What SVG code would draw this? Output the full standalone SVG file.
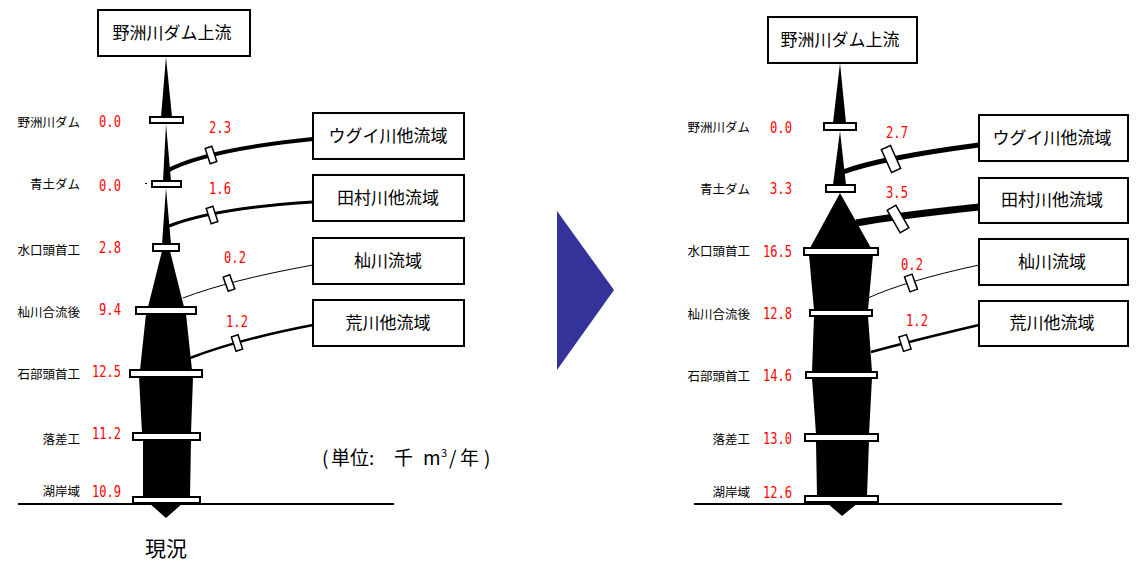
<svg xmlns="http://www.w3.org/2000/svg" width="1141" height="563" viewBox="0 0 1141 563">
<style>
.box{fill:#fff;stroke:#000;stroke-width:2}
.dam{fill:#fff;stroke:#000;stroke-width:2}
.gate{fill:#fff;stroke:#000;stroke-width:1.5}
.flow{fill:#000}
.con{fill:none;stroke:#000}
.bt{font-family:"Noto Sans CJK JP","Noto Sans",sans-serif;font-size:17px;text-anchor:middle;fill:#000}
.lbl{font-family:"Noto Sans CJK JP","Noto Sans",sans-serif;font-size:12.5px;text-anchor:end;fill:#000}
.val{font-family:"DejaVu Sans Mono","Liberation Mono",monospace;font-size:15px;fill:#ff0000;text-anchor:end}
.bv{font-family:"DejaVu Sans Mono","Liberation Mono",monospace;font-size:15px;fill:#ff0000;text-anchor:middle}
.big{font-family:"Noto Sans CJK JP","Noto Sans",sans-serif;font-size:21px;text-anchor:middle;fill:#000}
.unit{font-family:"Noto Sans CJK JP","Noto Sans",sans-serif;font-size:19px;fill:#000}
</style>
<rect width="1141" height="563" fill="#fff"/>

<!-- ===== LEFT (現況) ===== -->
<g id="left-river">
<polygon class="flow" points="166,57 172,117 161,117"/>
<polygon class="flow" points="166,124 171,181 163,181"/>
<polygon class="flow" points="166,188 171,244 162,244"/>
<polygon class="flow" points="162,251 170,251 184,307 148,307"/>
<polygon class="flow" points="146,314 186,314 192,370 140,370"/>
<polygon class="flow" points="139,377 193,377 191,433 142,433"/>
<polygon class="flow" points="143,440 191,440 190,497 143,497"/>
<polygon class="flow" points="149,503 183,503 166,518"/>
<line x1="18" y1="504" x2="394" y2="504" stroke="#000" stroke-width="2"/>
<rect x="145" y="183" width="2" height="1" fill="#000"/>
</g>

<g id="left-connectors">
<path class="con" stroke-width="4" d="M167,171 Q205,150 313,139"/>
<path class="con" stroke-width="3" d="M169,226 Q215,208 313,202"/>
<path class="con" stroke-width="1" d="M183,298 Q230,280 313,265"/>
<path class="con" stroke-width="2.5" d="M190,358 Q240,339 313,325"/>
<rect class="gate" x="-3.5" y="-8" width="7" height="16" transform="translate(211,155) rotate(-18)"/>
<rect class="gate" x="-3.5" y="-8" width="7" height="16" transform="translate(212,215) rotate(-18)"/>
<rect class="gate" x="-3.5" y="-7.5" width="7" height="15" transform="translate(229,283) rotate(-20)"/>
<rect class="gate" x="-3.5" y="-7.5" width="7" height="15" transform="translate(237,343) rotate(-18)"/>
<text class="bv" x="220" y="133" textLength="22" lengthAdjust="spacingAndGlyphs">2.3</text>
<text class="bv" x="220" y="194" textLength="22" lengthAdjust="spacingAndGlyphs">1.6</text>
<text class="bv" x="235" y="263" textLength="22" lengthAdjust="spacingAndGlyphs">0.2</text>
<text class="bv" x="237" y="327" textLength="22" lengthAdjust="spacingAndGlyphs">1.2</text>
</g>

<g id="left-top">
<rect class="box" x="98" y="10" width="152" height="46"/>
<text class="bt" x="172" y="39">野洲川ダム上流</text>
</g>
<g id="left-ugui"><rect class="box" x="313" y="113" width="151" height="46"/><text class="bt" x="388" y="142">ウグイ川他流域</text></g>
<g id="left-tamura"><rect class="box" x="313" y="175" width="151" height="46"/><text class="bt" x="388" y="204">田村川他流域</text></g>
<g id="left-soma"><rect class="box" x="313" y="238" width="151" height="46"/><text class="bt" x="388" y="267">杣川流域</text></g>
<g id="left-ara"><rect class="box" x="313" y="300" width="151" height="46"/><text class="bt" x="388" y="329">荒川他流域</text></g>

<g id="left-dams">
<g id="L-d1"><rect class="dam" x="150" y="117" width="33" height="6"/><text class="lbl" x="80" y="127">野洲川ダム</text><text class="val" x="121" y="127" textLength="22" lengthAdjust="spacingAndGlyphs">0.0</text></g>
<g id="L-d2"><rect class="dam" x="152" y="181" width="29" height="6"/><text class="lbl" x="80" y="189">青土ダム</text><text class="val" x="121" y="191" textLength="22" lengthAdjust="spacingAndGlyphs">0.0</text></g>
<g id="L-d3"><rect class="dam" x="153" y="244" width="26" height="7"/><text class="lbl" x="80" y="255">水口頭首工</text><text class="val" x="121" y="253" textLength="22" lengthAdjust="spacingAndGlyphs">2.8</text></g>
<g id="L-d4"><rect class="dam" x="136" y="307" width="60" height="7"/><text class="lbl" x="80" y="317">杣川合流後</text><text class="val" x="121" y="315" textLength="22" lengthAdjust="spacingAndGlyphs">9.4</text></g>
<g id="L-d5"><rect class="dam" x="130" y="370" width="72" height="7"/><text class="lbl" x="80" y="379">石部頭首工</text><text class="val" x="121" y="377" textLength="29" lengthAdjust="spacingAndGlyphs">12.5</text></g>
<g id="L-d6"><rect class="dam" x="133" y="433" width="67" height="7"/><text class="lbl" x="80" y="444">落差工</text><text class="val" x="121" y="439" textLength="29" lengthAdjust="spacingAndGlyphs">11.2</text></g>
<g id="L-d7"><rect class="dam" x="133" y="497" width="67" height="6"/><text class="lbl" x="80" y="496">湖岸域</text><text class="val" x="121" y="497" textLength="29" lengthAdjust="spacingAndGlyphs">10.9</text></g>
</g>

<text class="big" x="166" y="556">現況</text>
<text class="unit" y="465"><tspan x="322">(</tspan><tspan x="331">単位</tspan><tspan x="369">:</tspan><tspan x="394">千</tspan><tspan x="423">m</tspan><tspan x="441" font-size="11" dy="-8">3</tspan><tspan x="449" dy="8">/</tspan><tspan x="460">年</tspan><tspan x="484">)</tspan></text>

<polygon id="arrow" points="557,211 614,290 557,370" fill="#333399"/>

<!-- ===== RIGHT ===== -->
<g id="right-river">
<polygon class="flow" points="840,63 846,123 833,123"/>
<polygon class="flow" points="840,131 846,185 833,185"/>
<polygon class="flow" points="840,193 871,248 810,248"/>
<polygon class="flow" points="809,255 873,255 868,310 814,310"/>
<polygon class="flow" points="814,316 868,316 872,372 812,372"/>
<polygon class="flow" points="812,378 872,378 869,434 816,434"/>
<polygon class="flow" points="816,441 869,441 867,496 817,496"/>
<polygon class="flow" points="827,503 858,503 842,516"/>
<line x1="694" y1="504" x2="1062" y2="504" stroke="#000" stroke-width="2"/>
</g>

<g id="right-connectors">
<path class="con" stroke-width="5" d="M843,172 Q880,158 979,145"/>
<path class="con" stroke-width="7" d="M856,223 Q895,216 979,207"/>
<path class="con" stroke-width="1" d="M868,298 Q905,281 979,265"/>
<path class="con" stroke-width="2.5" d="M871,352 Q915,340 979,325"/>
<rect class="gate" x="-5" y="-12.5" width="10" height="25" transform="translate(891,159) rotate(-24)"/>
<rect class="gate" x="-5" y="-13" width="10" height="26" transform="translate(898,219) rotate(-30)"/>
<rect class="gate" x="-4" y="-8" width="8" height="16" transform="translate(911,283) rotate(-20)"/>
<rect class="gate" x="-4" y="-7.5" width="8" height="15" transform="translate(905,343) rotate(-18)"/>
<text class="bv" x="897" y="138" textLength="22" lengthAdjust="spacingAndGlyphs">2.7</text>
<text class="bv" x="897" y="198" textLength="22" lengthAdjust="spacingAndGlyphs">3.5</text>
<text class="bv" x="912" y="270" textLength="22" lengthAdjust="spacingAndGlyphs">0.2</text>
<text class="bv" x="917" y="326" textLength="22" lengthAdjust="spacingAndGlyphs">1.2</text>
</g>

<g id="right-top">
<rect class="box" x="768" y="17" width="149" height="46"/>
<text class="bt" x="840" y="46">野洲川ダム上流</text>
</g>
<g id="right-ugui"><rect class="box" x="979" y="115" width="149" height="46"/><text class="bt" x="1052" y="144">ウグイ川他流域</text></g>
<g id="right-tamura"><rect class="box" x="979" y="178" width="149" height="45"/><text class="bt" x="1052" y="206">田村川他流域</text></g>
<g id="right-soma"><rect class="box" x="979" y="239" width="149" height="46"/><text class="bt" x="1052" y="268">杣川流域</text></g>
<g id="right-ara"><rect class="box" x="979" y="301" width="149" height="45"/><text class="bt" x="1052" y="329">荒川他流域</text></g>

<g id="right-dams">
<g id="R-d1"><rect class="dam" x="824" y="123" width="32" height="7"/><text class="lbl" x="750" y="132">野洲川ダム</text><text class="val" x="792" y="133" textLength="22" lengthAdjust="spacingAndGlyphs">0.0</text></g>
<g id="R-d2"><rect class="dam" x="826" y="185" width="29" height="7"/><text class="lbl" x="750" y="194">青土ダム</text><text class="val" x="792" y="194" textLength="22" lengthAdjust="spacingAndGlyphs">3.3</text></g>
<g id="R-d3"><rect class="dam" x="804" y="248" width="74" height="7"/><text class="lbl" x="750" y="256">水口頭首工</text><text class="val" x="792" y="257" textLength="29" lengthAdjust="spacingAndGlyphs">16.5</text></g>
<g id="R-d4"><rect class="dam" x="810" y="310" width="62" height="6"/><text class="lbl" x="750" y="319">杣川合流後</text><text class="val" x="792" y="319" textLength="29" lengthAdjust="spacingAndGlyphs">12.8</text></g>
<g id="R-d5"><rect class="dam" x="806" y="372" width="71" height="6"/><text class="lbl" x="750" y="381">石部頭首工</text><text class="val" x="792" y="381" textLength="29" lengthAdjust="spacingAndGlyphs">14.6</text></g>
<g id="R-d6"><rect class="dam" x="805" y="434" width="73" height="7"/><text class="lbl" x="750" y="444">落差工</text><text class="val" x="792" y="444" textLength="29" lengthAdjust="spacingAndGlyphs">13.0</text></g>
<g id="R-d7"><rect class="dam" x="805" y="496" width="73" height="6"/><text class="lbl" x="750" y="497">湖岸域</text><text class="val" x="792" y="498" textLength="29" lengthAdjust="spacingAndGlyphs">12.6</text></g>
</g>
</svg>
